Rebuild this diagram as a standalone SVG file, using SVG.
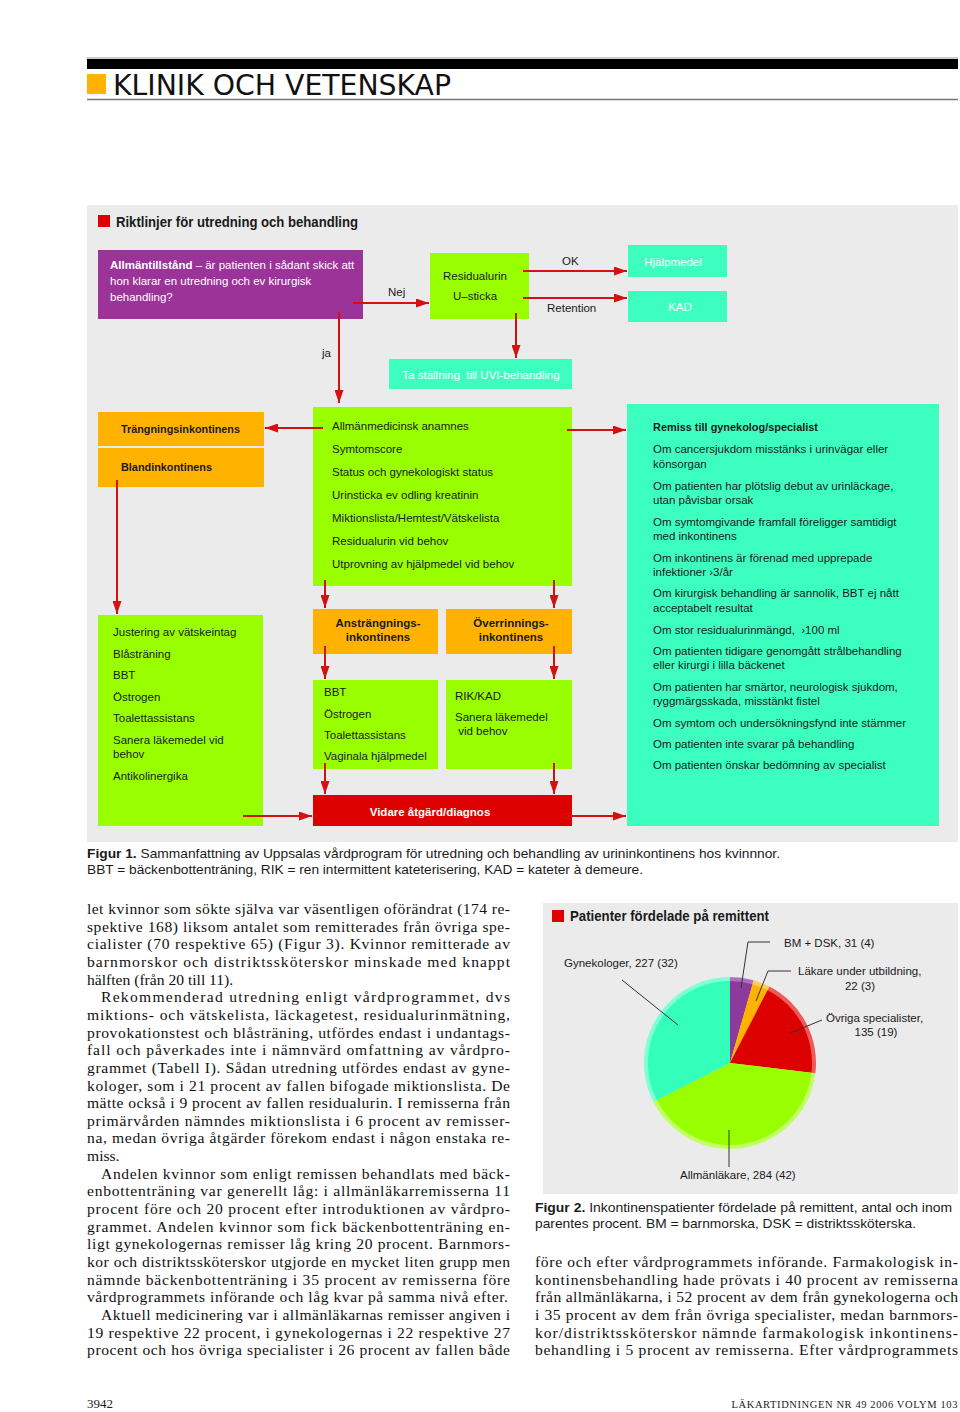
<svg xmlns="http://www.w3.org/2000/svg" width="960" height="1412" viewBox="0 0 960 1412">
<defs>
<marker id="ah" markerUnits="userSpaceOnUse" markerWidth="13" markerHeight="9" refX="13" refY="4.5" orient="auto">
<path d="M0,0 L13,4.5 L0,9 z" fill="#d41010"/>
</marker>
</defs>
<style>
.s{font-family:"Liberation Sans",Arial,sans-serif}
.t{font-family:"Liberation Sans",Arial,sans-serif;font-size:11.5px;fill:#1a1a1a}
.tw{font-family:"Liberation Sans",Arial,sans-serif;font-size:11.5px;fill:#ffffff}
.b{font-weight:bold}
.lbl{font-family:"Liberation Sans",Arial,sans-serif;font-size:11.5px;fill:#1a1a1a}
.body{font-family:"Liberation Serif","Times New Roman",serif;font-size:15.6px;fill:#111}
.cap{font-family:"Liberation Sans",Arial,sans-serif;font-size:13.5px;fill:#1a1a1a}
.lime{fill:#99ff00}
.aqua{fill:#3cffbf}
.orange{fill:#ffb300}
.conn line{stroke:#d41010;stroke-width:2;marker-end:url(#ah)}
.lead{stroke:#333;stroke-width:1;fill:none}
</style>
<rect width="960" height="1412" fill="#ffffff"/>

<!-- header -->
<g id="header">
<line x1="87" y1="58" x2="958" y2="58" stroke="#999" stroke-width="1"/>
<rect x="87" y="59" width="871" height="10" fill="#000"/>
<rect x="87" y="74" width="19" height="20" fill="#ffb300"/>
<text x="113" y="95" font-family="'DejaVu Sans Condensed','DejaVu Sans',sans-serif" font-stretch="condensed" font-size="28" textLength="338" lengthAdjust="spacingAndGlyphs" fill="#111">KLINIK OCH VETENSKAP</text>
<line x1="87" y1="99.5" x2="958" y2="99.5" stroke="#777" stroke-width="1.5"/>
</g>

<!-- flowchart panel -->
<rect x="87" y="205" width="871" height="637" fill="#ebebeb"/>
<g id="title1">
<rect x="98" y="215" width="12" height="12" fill="#e00000"/>
<text x="116" y="227" class="s b" font-size="15" textLength="242" lengthAdjust="spacingAndGlyphs" fill="#1a1a1a">Riktlinjer för utredning och behandling</text>
</g>

<g id="allmantillstand">
<rect x="98" y="250" width="265" height="69" fill="#9b3399"/>
<text x="110" y="269" class="tw"><tspan class="b">Allmäntillstånd</tspan> – är patienten i sådant skick att</text>
<text x="110" y="285" class="tw">hon klarar en utredning och ev kirurgisk</text>
<text x="110" y="301" class="tw">behandling?</text>
</g>

<g id="residualurin">
<rect x="430" y="253" width="99" height="66" class="lime"/>
<text x="475" y="280" class="t" text-anchor="middle">Residualurin</text>
<text x="475" y="300" class="t" text-anchor="middle">U–sticka</text>
</g>

<g id="hjalpmedel">
<rect x="628" y="245" width="99" height="32" class="aqua"/>
<text x="673" y="266" class="tw" text-anchor="middle">Hjälpmedel</text>
</g>

<g id="kad">
<rect x="628" y="291" width="99" height="31" class="aqua"/>
<text x="680" y="311" class="tw" text-anchor="middle">KAD</text>
</g>

<g id="uvi">
<rect x="389" y="359" width="183" height="30" class="aqua"/>
<text x="481" y="379" class="tw" text-anchor="middle" xml:space="preserve">Ta ställning  till UVI-behandling</text>
</g>

<g id="trangning">
<rect x="98" y="412" width="166" height="34" class="orange"/>
<text x="121" y="433" class="t b" font-size="11.5" textLength="119" lengthAdjust="spacingAndGlyphs">Trängningsinkontinens</text>
</g>

<g id="bland">
<rect x="98" y="448" width="166" height="39" class="orange"/>
<text x="121" y="471" class="t b" textLength="91" lengthAdjust="spacingAndGlyphs">Blandinkontinens</text>
</g>

<g id="utredning">
<rect x="313" y="407" width="259" height="179" class="lime"/>
<text x="332" y="430" class="t">Allmänmedicinsk anamnes</text>
<text x="332" y="453" class="t">Symtomscore</text>
<text x="332" y="476" class="t">Status och gynekologiskt status</text>
<text x="332" y="499" class="t">Urinsticka ev odling kreatinin</text>
<text x="332" y="522" class="t">Miktionslista/Hemtest/Vätskelista</text>
<text x="332" y="545" class="t">Residualurin vid behov</text>
<text x="332" y="568" class="t">Utprovning av hjälpmedel vid behov</text>
</g>

<g id="remiss">
<rect x="627" y="404" width="312" height="422" class="aqua"/>
<text x="653" y="431" class="t b" textLength="165" lengthAdjust="spacingAndGlyphs">Remiss till gynekolog/specialist</text>
<text x="653" y="453" class="t">Om cancersjukdom misstänks i urinvägar eller</text>
<text x="653" y="468" class="t">könsorgan</text>
<text x="653" y="490" class="t">Om patienten har plötslig debut av urinläckage,</text>
<text x="653" y="504" class="t">utan påvisbar orsak</text>
<text x="653" y="526" class="t">Om symtomgivande framfall föreligger samtidigt</text>
<text x="653" y="540" class="t">med inkontinens</text>
<text x="653" y="562" class="t">Om inkontinens är förenad med upprepade</text>
<text x="653" y="576" class="t">infektioner ›3/år</text>
<text x="653" y="597" class="t">Om kirurgisk behandling är sannolik, BBT ej nått</text>
<text x="653" y="612" class="t">acceptabelt resultat</text>
<text x="653" y="634" class="t" xml:space="preserve">Om stor residualurinmängd,  ›100 ml</text>
<text x="653" y="655" class="t">Om patienten tidigare genomgått strålbehandling</text>
<text x="653" y="669" class="t">eller kirurgi i lilla bäckenet</text>
<text x="653" y="691" class="t">Om patienten har smärtor, neurologisk sjukdom,</text>
<text x="653" y="705" class="t">ryggmärgsskada, misstänkt fistel</text>
<text x="653" y="727" class="t">Om symtom och undersökningsfynd inte stämmer</text>
<text x="653" y="748" class="t">Om patienten inte svarar på behandling</text>
<text x="653" y="769" class="t">Om patienten önskar bedömning av specialist</text>
</g>

<g id="behandling-vanster">
<rect x="98" y="615" width="165" height="211" class="lime"/>
<text x="113" y="636" class="t">Justering av vätskeintag</text>
<text x="113" y="658" class="t">Blåsträning</text>
<text x="113" y="679" class="t">BBT</text>
<text x="113" y="701" class="t">Östrogen</text>
<text x="113" y="722" class="t">Toalettassistans</text>
<text x="113" y="744" class="t">Sanera läkemedel vid</text>
<text x="113" y="758" class="t">behov</text>
<text x="113" y="780" class="t">Antikolinergika</text>
</g>

<g id="anstrangning">
<rect x="313" y="609" width="125" height="45" class="orange"/>
<text x="378" y="627" class="t b" text-anchor="middle">Ansträngnings-</text>
<text x="378" y="641" class="t b" text-anchor="middle">inkontinens</text>
</g>

<g id="overrinning">
<rect x="446" y="609" width="126" height="45" class="orange"/>
<text x="511" y="627" class="t b" text-anchor="middle">Överrinnings-</text>
<text x="511" y="641" class="t b" text-anchor="middle">inkontinens</text>
</g>

<g id="behandling-anstr">
<rect x="313" y="680" width="125" height="89" class="lime"/>
<text x="324" y="696" class="t">BBT</text>
<text x="324" y="718" class="t">Östrogen</text>
<text x="324" y="739" class="t">Toalettassistans</text>
<text x="324" y="760" class="t">Vaginala hjälpmedel</text>
</g>

<g id="behandling-over">
<rect x="446" y="680" width="126" height="89" class="lime"/>
<text x="455" y="700" class="t">RIK/KAD</text>
<text x="455" y="721" class="t">Sanera läkemedel</text>
<text x="455" y="735" class="t" xml:space="preserve"> vid behov</text>
</g>

<g id="vidare">
<rect x="313" y="795" width="259" height="31" fill="#dd0000"/>
<text x="430" y="816" class="tw b" text-anchor="middle">Vidare åtgärd/diagnos</text>
</g>

<g id="connectors" class="conn">
<line x1="353" y1="303" x2="429" y2="303"/>
<line x1="339" y1="312" x2="339" y2="403"/>
<line x1="523" y1="271" x2="627" y2="271"/>
<line x1="523" y1="298" x2="627" y2="298"/>
<line x1="516" y1="313" x2="516" y2="358"/>
<line x1="323" y1="428" x2="265" y2="428"/>
<line x1="567" y1="430" x2="626" y2="430"/>
<line x1="117" y1="480" x2="117" y2="614"/>
<line x1="325" y1="580" x2="325" y2="608"/>
<line x1="554" y1="580" x2="554" y2="608"/>
<line x1="325" y1="646" x2="325" y2="679"/>
<line x1="554" y1="646" x2="554" y2="679"/>
<line x1="325" y1="763" x2="325" y2="794"/>
<line x1="554" y1="763" x2="554" y2="794"/>
<line x1="243" y1="816" x2="312" y2="816"/>
<line x1="567" y1="816" x2="626" y2="816"/>
</g>
<g id="connector-labels">
<text x="388" y="296" class="lbl">Nej</text>
<text x="322" y="357" class="lbl">ja</text>
<text x="562" y="265" class="lbl">OK</text>
<text x="547" y="312" class="lbl">Retention</text>
</g>

<g id="caption1">
<text x="87" y="858" class="cap" textLength="693" lengthAdjust="spacingAndGlyphs"><tspan class="b">Figur 1.</tspan> Sammanfattning av Uppsalas vårdprogram för utredning och behandling av urininkontinens hos kvinnnor.</text>
<text x="87" y="874" class="cap" textLength="556" lengthAdjust="spacingAndGlyphs">BBT = bäckenbottenträning, RIK = ren intermittent kateterisering, KAD = kateter à demeure.</text>
</g>

<!-- body text left column -->
<g id="body-left" class="body">
<text x="87" y="914" textLength="423" lengthAdjust="spacing">let kvinnor som sökte själva var väsentligen oförändrat (174 re-</text>
<text x="87" y="931.65" textLength="423" lengthAdjust="spacing">spektive 168) liksom antalet som remitterades från övriga spe-</text>
<text x="87" y="949.3" textLength="423" lengthAdjust="spacing">cialister (70 respektive 65) (Figur 3). Kvinnor remitterade av</text>
<text x="87" y="966.95" textLength="423" lengthAdjust="spacing">barnmorskor och distriktssköterskor minskade med knappt</text>
<text x="87" y="984.6">hälften (från 20 till 11).</text>
<text x="101" y="1002.25" textLength="409" lengthAdjust="spacing">Rekommenderad utredning enligt vårdprogrammet, dvs</text>
<text x="87" y="1019.9" textLength="423" lengthAdjust="spacing">miktions- och vätskelista, läckagetest, residualurinmätning,</text>
<text x="87" y="1037.55" textLength="423" lengthAdjust="spacing">provokationstest och blåsträning, utfördes endast i undantags-</text>
<text x="87" y="1055.2" textLength="423" lengthAdjust="spacing">fall och påverkades inte i nämnvärd omfattning av vårdpro-</text>
<text x="87" y="1072.85" textLength="423" lengthAdjust="spacing">grammet (Tabell I). Sådan utredning utfördes endast av gyne-</text>
<text x="87" y="1090.5" textLength="423" lengthAdjust="spacing">kologer, som i 21 procent av fallen bifogade miktionslista. De</text>
<text x="87" y="1108.15" textLength="423" lengthAdjust="spacing">mätte också i 9 procent av fallen residualurin. I remisserna från</text>
<text x="87" y="1125.8" textLength="423" lengthAdjust="spacing">primärvården nämndes miktionslista i 6 procent av remisser-</text>
<text x="87" y="1143.45" textLength="423" lengthAdjust="spacing">na, medan övriga åtgärder förekom endast i någon enstaka re-</text>
<text x="87" y="1161.1">miss.</text>
<text x="101" y="1178.75" textLength="409" lengthAdjust="spacing">Andelen kvinnor som enligt remissen behandlats med bäck-</text>
<text x="87" y="1196.4" textLength="423" lengthAdjust="spacing">enbottenträning var generellt låg: i allmänläkarremisserna 11</text>
<text x="87" y="1214.05" textLength="423" lengthAdjust="spacing">procent före och 20 procent efter introduktionen av vårdpro-</text>
<text x="87" y="1231.7" textLength="423" lengthAdjust="spacing">grammet. Andelen kvinnor som fick bäckenbottenträning en-</text>
<text x="87" y="1249.35" textLength="423" lengthAdjust="spacing">ligt gynekologernas remisser låg kring 20 procent. Barnmors-</text>
<text x="87" y="1267" textLength="423" lengthAdjust="spacing">kor och distriktssköterskor utgjorde en mycket liten grupp men</text>
<text x="87" y="1284.65" textLength="423" lengthAdjust="spacing">nämnde bäckenbottenträning i 35 procent av remisserna före</text>
<text x="87" y="1302.3" textLength="421" lengthAdjust="spacing">vårdprogrammets införande och låg kvar på samma nivå efter.</text>
<text x="101" y="1319.95" textLength="409" lengthAdjust="spacing">Aktuell medicinering var i allmänläkarnas remisser angiven i</text>
<text x="87" y="1337.6" textLength="423" lengthAdjust="spacing">19 respektive 22 procent, i gynekologernas i 22 respektive 27</text>
<text x="87" y="1355.25" textLength="423" lengthAdjust="spacing">procent och hos övriga specialister i 26 procent av fallen både</text>
</g>

<!-- pie panel -->
<rect x="543" y="903" width="415" height="291" fill="#ebebeb"/>
<g id="title2">
<rect x="552" y="910" width="12" height="12" fill="#e00000"/>
<text x="570" y="921" class="s b" font-size="15" textLength="199" lengthAdjust="spacingAndGlyphs" fill="#1a1a1a">Patienter fördelade på remittent</text>
</g>

<g id="pie">
<path d="M730,1063 L730,977 A86,86 0 0 1 753.66,980.32 Z" fill="#b070c0"/>
<path d="M730,1063 L753.66,980.32 A86,86 0 0 1 769.44,986.58 Z" fill="#ffcc55"/>
<path d="M730,1063 L769.44,986.58 A86,86 0 0 1 815.39,1073.21 Z" fill="#ec5a5a"/>
<path d="M730,1063 L815.39,1073.21 A86,86 0 0 1 653.31,1101.92 Z" fill="#c0ff66"/>
<path d="M730,1063 L653.31,1101.92 A86,86 0 0 1 730,977 Z" fill="#7fffd6"/>
<path d="M730,1063 L730,981 A82,82 0 0 1 752.56,984.17 Z" fill="#8e3a9c"/>
<path d="M730,1063 L752.56,984.17 A82,82 0 0 1 767.61,990.13 Z" fill="#ffb300"/>
<path d="M730,1063 L767.61,990.13 A82,82 0 0 1 811.42,1072.74 Z" fill="#dd0000"/>
<path d="M730,1063 L811.42,1072.74 A82,82 0 0 1 656.87,1100.11 Z" fill="#99ff00"/>
<path d="M730,1063 L656.87,1100.11 A82,82 0 0 1 730,981 Z" fill="#33ffbb"/>
</g>

<g id="pie-labels">
<path class="lead" d="M770,942 L748,942 L741,988"/>
<text x="784" y="947" class="lbl">BM + DSK, 31 (4)</text>
<path class="lead" d="M791,971 L768,971 L756,1001"/>
<text x="798" y="975" class="lbl">Läkare under utbildning,</text>
<text x="860" y="990" class="lbl" text-anchor="middle">22 (3)</text>
<path class="lead" d="M822,1020 L790,1033"/>
<text x="826" y="1022" class="lbl">Övriga specialister,</text>
<text x="876" y="1036" class="lbl" text-anchor="middle">135 (19)</text>
<path class="lead" d="M622,980 L678,1025"/>
<text x="564" y="967" class="lbl">Gynekologer, 227 (32)</text>
<path class="lead" d="M729,1130 L729,1167"/>
<text x="680" y="1179" class="lbl">Allmänläkare, 284 (42)</text>
</g>

<g id="caption2">
<text x="535" y="1212" class="cap" textLength="417" lengthAdjust="spacingAndGlyphs"><tspan class="b">Figur 2.</tspan> Inkontinenspatienter fördelade på remittent, antal och inom</text>
<text x="535" y="1228" class="cap" textLength="381" lengthAdjust="spacingAndGlyphs">parentes procent. BM = barnmorska, DSK = distriktssköterska.</text>
</g>

<g id="body-right" class="body">
<text x="535" y="1267" textLength="423" lengthAdjust="spacing">före och efter vårdprogrammets införande. Farmakologisk in-</text>
<text x="535" y="1284.65" textLength="423" lengthAdjust="spacing">kontinensbehandling hade prövats i 40 procent av remisserna</text>
<text x="535" y="1302.3" textLength="423" lengthAdjust="spacing">från allmänläkarna, i 52 procent av dem från gynekologerna och</text>
<text x="535" y="1319.95" textLength="423" lengthAdjust="spacing">i 35 procent av dem från övriga specialister, medan barnmors-</text>
<text x="535" y="1337.6" textLength="423" lengthAdjust="spacing">kor/distriktssköterskor nämnde farmakologisk inkontinens-</text>
<text x="535" y="1355.25" textLength="423" lengthAdjust="spacing">behandling i 5 procent av remisserna. Efter vårdprogrammets</text>
</g>

<g id="footer">
<text x="87" y="1408" font-family="'Liberation Serif','Times New Roman',serif" font-size="13" fill="#1a1a1a">3942</text>
<text x="958" y="1408" text-anchor="end" font-family="'Liberation Serif','Times New Roman',serif" font-size="10.5" letter-spacing="0.6" fill="#1a1a1a">LÄKARTIDNINGEN NR 49 2006 VOLYM 103</text>
</g>
</svg>
